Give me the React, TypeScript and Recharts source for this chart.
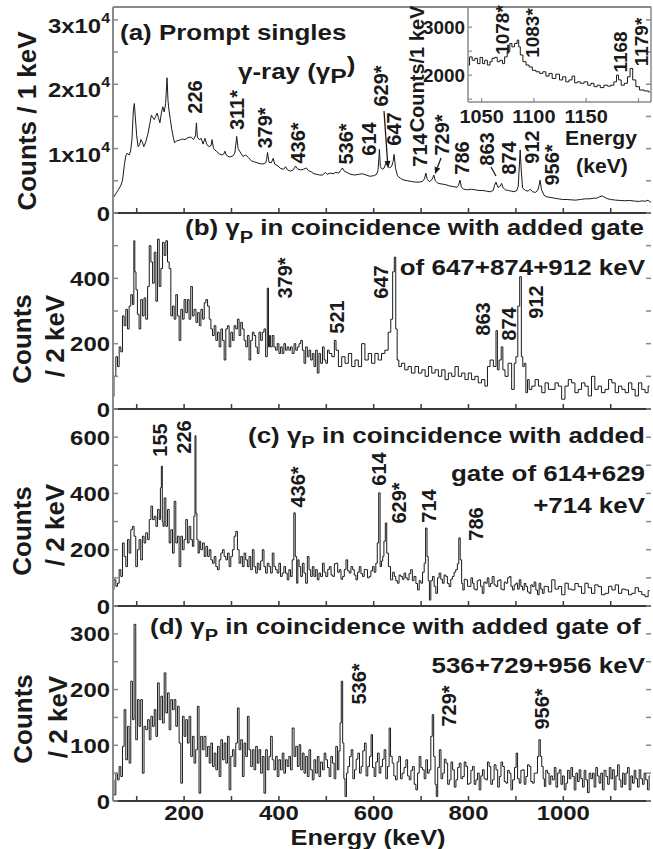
import React from 'react';
import { LineChart, Line, XAxis, YAxis, ReferenceLine } from 'recharts';

const W = 653;
const H = 849;
const XL = 113;
const XR = 651;
const FONT = '"Liberation Sans", Arial, Helvetica, sans-serif';
const INK = '#1a1a1a';
const AXIS_DARK = '#3a3a3a';
const AXIS_GRAY = '#8a8a8a';

type Pt = [number, number];

// (a) prompt singles, counts / 1 keV
const panelA: Pt[] = [[50,2300],[56,3000],[62,3700],[66,4200],[70,5000],[74,7500],[77,8900],[80,9300],[84,9000],[87,9600],[90,11400],[93,16000],[95,17000],[97,15000],[100,12000],[103,10300],[106,10600],[109,11400],[112,11000],[115,10300],[119,11000],[124,12400],[128,14000],[131,15200],[134,14800],[137,14500],[140,15000],[143,15500],[146,14800],[149,14000],[152,15500],[155,16500],[158,15700],[161,17000],[164,21000],[166,17500],[168,16000],[171,14500],[174,13000],[177,11800],[180,10900],[184,11200],[190,11300],[196,11500],[202,11400],[208,11700],[214,11800],[220,11400],[224,12000],[226,14000],[228,11800],[232,11400],[236,11600],[240,10700],[244,11600],[248,10600],[253,10300],[257,10500],[259,11400],[262,10000],[268,9600],[274,9200],[280,9000],[284,9200],[286,9600],[289,9000],[295,8700],[302,8800],[307,9300],[311,11900],[314,10000],[318,9500],[324,8800],[330,9000],[336,8600],[342,8100],[350,7900],[358,7700],[366,7600],[372,7800],[374,8300],[376,9400],[379,7900],[384,7800],[388,8500],[391,7600],[398,7300],[404,6900],[410,6800],[414,7200],[418,6700],[424,6500],[430,6700],[433,7000],[435,7300],[440,6800],[446,6700],[452,6800],[458,7000],[462,6600],[468,6400],[474,6100],[480,6000],[486,5900],[492,5900],[498,6300],[502,6000],[508,6200],[514,6100],[520,6300],[526,6200],[530,6600],[534,7000],[538,6500],[546,6200],[552,6000],[560,5900],[568,6000],[576,6100],[584,5900],[592,5700],[600,5800],[606,6000],[609,6600],[611,8500],[612,9900],[614,7200],[618,6800],[622,7000],[625,7600],[627,8000],[630,7200],[634,7000],[638,7300],[641,8000],[643,9100],[646,7000],[650,5800],[656,5400],[664,5100],[672,5000],[680,4900],[688,4800],[696,4800],[703,4900],[707,5300],[710,6200],[713,5200],[718,4900],[723,5200],[727,5900],[730,5000],[736,4600],[744,4500],[752,4400],[760,4200],[768,4100],[776,4000],[779,4300],[782,5100],[785,4000],[790,3700],[798,3600],[806,3700],[814,3600],[822,3500],[830,3500],[838,3400],[846,3300],[852,3500],[855,4300],[858,4800],[862,4000],[866,4100],[870,4600],[873,3900],[878,3600],[884,3500],[890,3400],[896,3300],[902,3500],[905,4200],[907,7000],[909,9800],[911,7000],[914,3900],[920,3500],[926,3400],[930,3700],[935,3300],[941,3200],[946,3500],[949,4300],[951,5100],[954,3600],[960,2700],[966,2500],[974,2400],[982,2300],[990,2200],[998,2100],[1006,2100],[1016,2050],[1026,2000],[1036,2100],[1046,2200],[1056,2200],[1064,2300],[1070,2300],[1076,2500],[1082,2650],[1088,2400],[1094,2200],[1100,2100],[1110,2000],[1120,1950],[1130,1900],[1140,1950],[1150,1850],[1160,1800],[1168,1900],[1172,1800],[1179,2000],[1182,1750],[1185,1700]];

// inset of (a), counts / 1 keV
const insetA: Pt[] = [[1037,2210],[1040,2380],[1042,2310],[1045,2350],[1047,2240],[1050,2370],[1052,2240],[1054,2310],[1057,2210],[1059,2280],[1061,2350],[1064,2370],[1066,2280],[1069,2310],[1071,2240],[1073,2380],[1076,2490],[1078,2660],[1080,2590],[1083,2660],[1085,2730],[1086,2590],[1088,2420],[1091,2280],[1094,2210],[1097,2170],[1100,2100],[1104,2070],[1107,2035],[1110,2070],[1113,1980],[1116,2035],[1119,1930],[1123,2020],[1126,1900],[1129,1965],[1132,1860],[1135,1900],[1138,1980],[1140,1840],[1143,1860],[1146,1830],[1150,1860],[1153,1790],[1156,1830],[1159,1760],[1162,1790],[1165,1740],[1169,1790],[1172,1770],[1175,1790],[1178,1860],[1180,2000],[1182,1900],[1185,1790],[1188,1830],[1191,1965],[1193,2140],[1196,1900],[1199,1760],[1203,1690],[1208,1670],[1211,1650]];

// (b) gate 647+874+912, counts / 2 keV
const panelB: Pt[] = [[50,38],[54,100],[58,160],[61,130],[65,190],[68,175],[72,285],[75,255],[79,305],[82,245],[86,315],[89,350],[93,320],[95,515],[97,420],[100,365],[103,290],[107,245],[110,335],[114,285],[117,340],[121,275],[125,375],[128,500],[132,450],[135,385],[139,480],[142,330],[146,520],[149,375],[153,430],[156,510],[160,470],[163,515],[167,450],[170,430],[174,285],[177,315],[181,275],[184,350],[188,285],[191,210],[195,305],[198,275],[202,335],[205,295],[209,335],[212,275],[216,375],[219,285],[223,305],[227,265],[230,295],[234,255],[237,305],[241,275],[244,325],[248,335],[251,315],[255,275],[258,245],[262,225],[265,255],[269,210],[272,235],[276,190],[279,245],[283,210],[286,150],[290,245],[293,255],[297,190],[300,235],[304,210],[307,255],[311,245],[314,275],[318,225],[321,265],[325,245],[328,210],[332,190],[335,225],[339,150],[342,210],[346,235],[349,225],[353,190],[356,170],[360,235],[363,210],[367,235],[370,245],[374,160],[377,370],[379,190],[381,225],[384,190],[388,225],[391,190],[395,180],[398,200],[402,170],[405,190],[409,170],[412,200],[416,180],[419,190],[423,180],[426,190],[430,170],[434,200],[437,180],[441,190],[444,200],[448,210],[451,180],[455,140],[458,190],[462,160],[465,180],[469,150],[472,170],[476,130],[479,180],[483,110],[486,170],[490,140],[494,190],[497,150],[501,140],[504,180],[508,170],[515,160],[519,210],[522,180],[529,130],[536,160],[543,140],[550,170],[557,130],[564,150],[571,130],[578,200],[585,150],[592,170],[599,140],[606,170],[613,150],[620,170],[627,180],[634,235],[638,275],[642,420],[645,465],[648,245],[651,150],[655,130],[662,140],[669,120],[676,130],[683,110],[691,130],[698,110],[705,120],[712,100],[719,130],[726,110],[733,120],[740,100],[747,120],[754,90],[761,110],[768,100],[775,130],[782,100],[789,110],[796,90],[803,110],[810,90],[817,100],[824,80],[831,90],[838,70],[842,130],[849,150],[856,130],[860,240],[862,120],[867,150],[871,190],[874,120],[880,100],[887,140],[895,60],[898,140],[902,160],[906,315],[910,405],[913,160],[916,130],[919,140],[923,50],[926,90],[930,60],[937,70],[944,90],[951,70],[958,50],[965,80],[972,60],[979,60],[986,80],[993,70],[1000,30],[1007,70],[1014,90],[1021,80],[1028,50],[1035,60],[1042,80],[1049,70],[1056,40],[1063,100],[1070,60],[1077,70],[1084,50],[1092,60],[1099,90],[1106,80],[1113,50],[1120,70],[1127,60],[1134,50],[1141,80],[1148,60],[1155,40],[1162,80],[1169,60],[1176,50],[1182,70]];

// (c) gate 614+629+714, counts / 2 keV
const panelC: Pt[] = [[50,57],[54,93],[58,70],[61,81],[65,129],[68,105],[72,224],[75,176],[79,140],[82,236],[86,188],[89,271],[93,283],[96,248],[100,140],[103,200],[107,236],[110,164],[114,248],[117,224],[121,260],[125,236],[128,307],[132,355],[135,307],[139,319],[142,283],[146,343],[149,307],[151,420],[153,497],[155,300],[156,283],[160,384],[163,283],[167,343],[170,224],[174,271],[177,188],[181,372],[184,224],[188,248],[191,140],[195,248],[198,200],[202,236],[205,307],[209,224],[212,283],[216,236],[219,212],[222,319],[224,605],[226,330],[228,236],[231,188],[233,230],[237,200],[241,224],[244,176],[248,212],[251,176],[255,200],[258,164],[262,152],[265,176],[269,140],[272,129],[276,164],[279,188],[283,200],[286,176],[290,164],[293,188],[297,140],[300,176],[304,200],[307,248],[311,265],[314,200],[318,152],[321,176],[325,140],[328,188],[332,164],[335,140],[339,176],[342,129],[346,200],[349,140],[353,117],[356,152],[360,129],[363,160],[367,200],[370,140],[374,117],[377,152],[381,140],[384,117],[388,188],[391,140],[395,129],[398,117],[402,152],[405,105],[409,117],[412,140],[416,117],[419,93],[423,129],[426,105],[430,164],[433,331],[436,176],[439,81],[441,164],[444,140],[448,105],[451,152],[455,117],[458,81],[462,176],[465,129],[469,105],[472,140],[476,105],[479,129],[483,93],[486,117],[490,105],[494,152],[497,120],[501,105],[505,130],[508,140],[512,110],[515,105],[519,150],[522,152],[526,120],[529,129],[533,95],[536,105],[540,130],[543,164],[547,125],[550,117],[554,140],[557,129],[561,110],[564,93],[568,120],[571,140],[575,115],[578,105],[582,130],[585,129],[589,100],[592,105],[596,125],[599,140],[603,120],[606,152],[609,224],[612,402],[615,140],[618,160],[620,176],[623,230],[626,295],[629,188],[633,140],[638,93],[642,120],[645,105],[648,90],[652,81],[655,110],[659,105],[662,95],[666,117],[669,100],[673,93],[676,115],[680,129],[683,90],[687,105],[691,80],[694,57],[698,90],[701,81],[705,120],[708,152],[711,277],[714,176],[716,90],[719,21],[722,90],[726,105],[729,70],[733,45],[736,100],[740,117],[743,95],[747,81],[750,110],[754,105],[757,80],[761,69],[764,95],[768,105],[771,120],[775,129],[778,150],[781,242],[784,164],[787,80],[789,57],[793,95],[796,93],[800,70],[803,69],[807,100],[810,81],[813,60],[817,57],[820,90],[824,93],[827,70],[831,45],[834,85],[838,81],[841,100],[845,69],[848,80],[852,105],[856,75],[860,69],[863,90],[867,93],[870,60],[874,57],[877,85],[881,81],[884,100],[888,105],[891,70],[895,57],[898,75],[902,81],[905,60],[909,93],[912,70],[916,57],[919,80],[923,69],[926,50],[930,45],[933,75],[937,69],[940,85],[944,57],[947,40],[951,81],[954,60],[958,45],[961,70],[965,69],[972,50],[979,93],[986,60],[993,69],[1000,40],[1007,81],[1014,60],[1021,57],[1028,80],[1035,69],[1042,45],[1049,81],[1056,65],[1063,45],[1070,75],[1077,69],[1084,40],[1092,45],[1099,70],[1106,57],[1113,75],[1120,45],[1127,60],[1134,57],[1141,40],[1148,45],[1155,65],[1162,51],[1169,40],[1176,33],[1182,55]];

// (d) gate 536+729+956, counts / 2 keV
const panelD: Pt[] = [[50,38],[54,11],[58,50],[61,38],[65,62],[68,44],[72,98],[75,164],[79,74],[82,134],[86,68],[89,215],[93,146],[96,317],[100,110],[103,182],[107,134],[110,182],[114,50],[117,134],[121,128],[125,146],[128,110],[132,152],[135,134],[139,164],[142,116],[146,212],[149,146],[153,188],[156,140],[160,230],[163,158],[167,194],[170,128],[174,182],[177,164],[181,182],[184,134],[188,170],[191,104],[195,32],[198,152],[202,116],[205,146],[209,104],[212,152],[216,80],[219,116],[223,68],[226,92],[230,170],[233,14],[237,116],[240,92],[244,116],[248,80],[251,98],[255,68],[258,104],[262,62],[265,86],[269,56],[272,98],[276,44],[279,110],[283,74],[286,104],[290,68],[293,116],[297,20],[300,80],[304,92],[307,62],[311,104],[314,167],[318,92],[321,110],[325,44],[328,104],[332,80],[335,152],[339,92],[342,62],[346,92],[349,56],[353,98],[356,68],[360,92],[363,50],[367,80],[370,14],[374,92],[377,56],[381,80],[384,116],[388,74],[391,56],[395,80],[398,44],[402,74],[405,56],[409,86],[412,50],[416,74],[419,62],[423,80],[426,56],[430,131],[434,80],[437,98],[441,62],[444,101],[448,56],[451,86],[455,50],[458,80],[462,44],[465,92],[469,56],[472,38],[476,74],[479,50],[483,80],[486,44],[490,70],[494,56],[497,86],[501,74],[504,60],[508,44],[511,80],[515,68],[518,40],[522,98],[525,56],[528,90],[530,140],[533,215],[536,104],[538,40],[541,8],[544,50],[547,62],[551,80],[554,92],[558,40],[561,56],[565,75],[568,86],[572,50],[575,62],[579,90],[582,104],[586,45],[589,62],[593,80],[596,119],[599,60],[603,44],[606,70],[610,86],[613,50],[617,62],[620,75],[624,92],[627,40],[631,62],[634,131],[637,80],[641,68],[644,45],[648,38],[651,70],[655,80],[658,40],[662,50],[666,60],[670,74],[673,45],[677,38],[680,55],[684,62],[687,30],[691,20],[694,50],[698,80],[701,60],[705,56],[708,40],[712,74],[715,50],[719,56],[722,116],[725,155],[728,80],[731,30],[733,8],[737,60],[740,92],[744,40],[747,50],[751,75],[754,68],[758,30],[761,38],[765,70],[768,56],[772,25],[775,38],[779,60],[782,68],[786,40],[789,44],[793,70],[796,62],[800,30],[803,32],[807,55],[810,62],[814,30],[817,38],[821,50],[824,20],[828,45],[831,56],[835,40],[838,38],[842,70],[845,62],[849,30],[852,38],[856,65],[860,56],[863,25],[867,44],[870,70],[874,62],[877,35],[881,32],[884,55],[888,50],[891,20],[895,38],[899,60],[902,86],[905,40],[909,32],[912,55],[916,56],[919,30],[923,44],[926,65],[930,62],[933,35],[937,32],[940,50],[944,50],[947,80],[950,110],[953,80],[956,62],[959,40],[961,26],[965,55],[968,50],[972,30],[975,45],[979,38],[983,60],[986,25],[990,50],[993,56],[997,30],[1000,45],[1004,20],[1007,32],[1011,55],[1014,40],[1018,60],[1021,44],[1025,20],[1028,50],[1032,35],[1035,56],[1039,40],[1042,25],[1046,55],[1049,38],[1053,15],[1056,50],[1060,40],[1063,50],[1067,25],[1070,60],[1074,45],[1077,32],[1081,50],[1084,20],[1088,55],[1092,44],[1095,30],[1099,60],[1102,40],[1106,56],[1109,20],[1113,45],[1116,65],[1120,38],[1123,25],[1127,50],[1130,30],[1134,50],[1137,60],[1141,20],[1144,45],[1148,32],[1151,55],[1155,40],[1158,25],[1162,56],[1165,40],[1169,30],[1172,50],[1176,38],[1179,20],[1183,45]];

const energyTicks = [100, 200, 300, 400, 500, 600, 700, 800, 900, 1000, 1100];
const energyLabels = [200, 400, 600, 800, 1000];
const ticksA = [0, 5000, 10000, 15000, 20000, 25000, 30000];
const labelsA = [0, 10000, 20000, 30000];
const ticksB = [0, 100, 200, 300, 400, 500];
const labelsB = [0, 200, 400];
const ticksC = [0, 100, 200, 300, 400, 500, 600];
const labelsC = [0, 200, 400, 600];
const ticksD = [0, 50, 100, 150, 200, 250, 300];
const labelsD = [0, 100, 200, 300];
const insetXTicks = [1050, 1100, 1150, 1200];
const insetXLabels = [1050, 1100, 1150];
const insetYTicks = [1500, 2000, 2500, 3000];
const insetYLabels = [2000, 3000];

const toRows = (pts: Pt[]) => pts.map(([e, c]) => ({ e, c }));

const SX = 1.18;
function HT({ x, y, size = 22, anchor = 'start', sx = SX, children }: any) {
  return (
    <text transform={`translate(${x},${y}) scale(${sx},1)`} textAnchor={anchor} fontSize={size}
      fontFamily={FONT} fontWeight="bold" fill={INK}>{children}</text>
  );
}
function VT({ x, y, size = 20, children }: any) {
  return (
    <text transform={`translate(${x + size * 0.36},${y}) rotate(-90)`} textAnchor="middle" fontSize={size}
      fontFamily={FONT} fontWeight="bold" fill={INK}>{children}</text>
  );
}

type PanelProps = {
  data: Pt[]; top: number; bottom: number; yMax: number; yTicks: number[]; yLabels: number[];
  sci?: boolean; showX?: boolean; step?: boolean; frameTop?: boolean;
};

function Panel(p: PanelProps) {
  const xTick = (props: any) => {
    const x = props.x;
    const v = props.payload.value;
    return (
      <g>
        <line x1={x} x2={x} y1={p.bottom} y2={p.bottom - 5} stroke={AXIS_DARK} strokeWidth={1.5} />
        {p.showX && energyLabels.includes(v) ? (
          <text transform={`translate(${x},${p.bottom + 18.5}) scale(1.14,1)`} textAnchor="middle" fontSize={21}
            fontFamily={FONT} fontWeight="bold" fill={INK}>{v}</text>
        ) : null}
      </g>
    );
  };
  const yTick = (props: any) => {
    const y = props.y;
    const v = props.payload.value;
    let label: any = null;
    if (p.yLabels.includes(v)) {
      if (p.sci && v !== 0) {
        label = (
          <text transform={`translate(110,${y + 13}) scale(1.14,1)`} textAnchor="end" fontSize={21}
            fontFamily={FONT} fontWeight="bold" fill={INK}>
            {`${v / 10000}x10`}<tspan dy={-10} fontSize={14}>4</tspan>
          </text>
        );
      } else {
        label = (
          <text transform={`translate(110,${y + 7.5}) scale(1.14,1)`} textAnchor="end" fontSize={21}
            fontFamily={FONT} fontWeight="bold" fill={INK}>{v}</text>
        );
      }
    }
    return (
      <g>
        <line x1={XL} x2={XL + 5} y1={y} y2={y} stroke={AXIS_GRAY} strokeWidth={1.5} />
        <line x1={XR} x2={XR - 5} y1={y} y2={y} stroke={AXIS_GRAY} strokeWidth={1.5} />
        {label}
      </g>
    );
  };
  return (
    <div style={{ position: 'absolute', left: 0, top: 0 }}>
      <LineChart width={W} height={H} data={toRows(p.data)}
        margin={{ top: p.top, bottom: H - p.bottom - 30, left: 0, right: W - XR }}>
        <XAxis dataKey="e" type="number" domain={[50, 1185]} ticks={energyTicks} interval={0} height={30}
          tickLine={false} axisLine={{ stroke: AXIS_DARK, strokeWidth: 2 }} tick={xTick} />
        <YAxis type="number" domain={[0, p.yMax]} ticks={p.yTicks} interval={0} width={XL}
          tickLine={false} axisLine={{ stroke: AXIS_GRAY, strokeWidth: 2 }} tick={yTick} />
        {p.frameTop ? <ReferenceLine y={p.yMax} stroke={AXIS_GRAY} strokeWidth={2} /> : null}
        <Line dataKey="c" type={p.step ? 'step' : 'linear'} stroke={INK} strokeWidth={1} dot={false}
          isAnimationActive={false} />
      </LineChart>
    </div>
  );
}

const IL = 468;
const IT = 7;
const IB = 102;

function Inset() {
  const xTick = (props: any) => {
    const x = props.x;
    const v = props.payload.value;
    return (
      <g>
        <line x1={x} x2={x} y1={IB} y2={IB - 4} stroke={AXIS_GRAY} strokeWidth={1.2} />
        {insetXLabels.includes(v) ? (
          <text transform={`translate(${x},${IB + 21}) scale(1.05,1)`} textAnchor="middle" fontSize={19}
            fontFamily={FONT} fontWeight="bold" fill={INK}>{v}</text>
        ) : null}
      </g>
    );
  };
  const yTick = (props: any) => {
    const y = props.y;
    const v = props.payload.value;
    return (
      <g>
        <line x1={IL} x2={IL + 4} y1={y} y2={y} stroke={AXIS_GRAY} strokeWidth={1.2} />
        {insetYLabels.includes(v) ? (
          <text transform={`translate(465,${y + 6.5}) scale(1.05,1)`} textAnchor="end" fontSize={18}
            fontFamily={FONT} fontWeight="bold" fill={INK}>{v}</text>
        ) : null}
      </g>
    );
  };
  return (
    <div style={{ position: 'absolute', left: 0, top: 0 }}>
      <LineChart width={W} height={H} data={toRows(insetA)}
        margin={{ top: IT, bottom: H - IB - 30, left: 0, right: W - XR }}>
        <XAxis dataKey="e" type="number" domain={[1037, 1212]} ticks={insetXTicks} interval={0} height={30}
          tickLine={false} axisLine={{ stroke: AXIS_GRAY, strokeWidth: 1.5 }} tick={xTick} />
        <YAxis type="number" domain={[1440, 3420]} ticks={insetYTicks} interval={0} width={IL}
          tickLine={false} axisLine={{ stroke: AXIS_GRAY, strokeWidth: 1.5 }} tick={yTick} />
        <ReferenceLine x={1212} stroke={AXIS_GRAY} strokeWidth={1.5} />
        <Line dataKey="c" type="step" stroke={INK} strokeWidth={1} dot={false} isAnimationActive={false} />
      </LineChart>
    </div>
  );
}

function Arrow({ x1, y1, x2, y2 }: any) {
  const dx = x2 - x1;
  const dy = y2 - y1;
  const len = Math.sqrt(dx * dx + dy * dy);
  const ux = dx / len;
  const uy = dy / len;
  const bx = x2 - ux * 7;
  const by = y2 - uy * 7;
  const pts = `${x2},${y2} ${bx - uy * 3},${by + ux * 3} ${bx + uy * 3},${by - ux * 3}`;
  return (
    <g>
      <line x1={x1} y1={y1} x2={bx} y2={by} stroke={INK} strokeWidth={1.3} />
      <polygon points={pts} fill={INK} />
    </g>
  );
}

function Overlay() {
  return (
    <svg width={W} height={H} style={{ position: 'absolute', left: 0, top: 0 }}>
      {/* panel (a) */}
      <HT x={120} y={40}>(a) Prompt singles</HT>
      <HT x={238} y={79}>γ-ray (γ<tspan dy={4} fontSize={21}>P</tspan><tspan dy={-11}>)</tspan></HT>
      <VT x={27} y={121} size={26}>Counts / 1 keV</VT>
      <VT x={195} y={97}>226</VT>
      <VT x={237} y={110}>311*</VT>
      <VT x={265} y={128}>379*</VT>
      <VT x={298} y={143}>436*</VT>
      <VT x={346} y={144}>536*</VT>
      <VT x={369} y={139}>614</VT>
      <VT x={381} y={86}>629*</VT>
      <VT x={394} y={129}>647</VT>
      <VT x={420} y={150}>714</VT>
      <VT x={442} y={135}>729*</VT>
      <VT x={462} y={158}>786</VT>
      <VT x={487} y={149}>863</VT>
      <VT x={509} y={158}>874</VT>
      <VT x={532} y={147}>912</VT>
      <VT x={552} y={165}>956*</VT>
      <Arrow x1={384} y1={111} x2={388} y2={168} />
      <Arrow x1={441} y1={158} x2={435} y2={174} />
      <line x1={491} y1={167} x2={496} y2={176} stroke={INK} strokeWidth={1.3} />
      {/* inset */}
      <VT x={417} y={69} size={20}>Counts/1 keV</VT>
      <VT x={502} y={30} size={19}>1078*</VT>
      <VT x={532} y={33} size={19}>1083*</VT>
      <VT x={620} y={52} size={19}>1168</VT>
      <VT x={641} y={42} size={19}>1179*</VT>
      <HT x={601} y={145} size={20} sx={1.06} anchor="middle">Energy</HT>
      <HT x={602} y={173} size={20} sx={1.06} anchor="middle">(keV)</HT>
      {/* panel (b) */}
      <HT x={185} y={235}>(b) γ<tspan dy={8} fontSize={17}>P</tspan><tspan dy={-8}> in coincidence with added gate</tspan></HT>
      <HT x={645} y={275} anchor="end">of 647+874+912 keV</HT>
      <VT x={22} y={339} size={26}>Counts</VT>
      <VT x={55} y={336} size={26}>/ 2 keV</VT>
      <VT x={285} y={278}>379*</VT>
      <VT x={337} y={317}>521</VT>
      <VT x={381} y={282}>647</VT>
      <VT x={483} y={319}>863</VT>
      <VT x={509} y={324}>874</VT>
      <VT x={536} y={302}>912</VT>
      {/* panel (c) */}
      <HT x={248} y={443}>(c) γ<tspan dy={5} fontSize={17}>P</tspan><tspan dy={-5}> in coincidence with added</tspan></HT>
      <HT x={645} y={481} anchor="end">gate of 614+629</HT>
      <HT x={645} y={513} anchor="end">+714 keV</HT>
      <VT x={22} y={531} size={26}>Counts</VT>
      <VT x={55} y={525} size={26}>/ 2 keV</VT>
      <VT x={160} y={440}>155</VT>
      <VT x={184} y={437}>226</VT>
      <VT x={298} y={487}>436*</VT>
      <VT x={379} y={469}>614</VT>
      <VT x={399} y={503}>629*</VT>
      <VT x={429} y={506}>714</VT>
      <VT x={476} y={524}>786</VT>
      {/* panel (d) */}
      <HT x={150} y={634}>(d) γ<tspan dy={7} fontSize={17}>P</tspan><tspan dy={-7}> in coincidence with added gate of</tspan></HT>
      <HT x={645} y={673} anchor="end">536+729+956 keV</HT>
      <VT x={23} y={719} size={26}>Counts</VT>
      <VT x={58} y={717} size={26}>/ 2 keV</VT>
      <VT x={359} y={684}>536*</VT>
      <VT x={449} y={706}>729*</VT>
      <VT x={542} y={709}>956*</VT>
      <HT x={368} y={845} size={21.5} anchor="middle">Energy (keV)</HT>
    </svg>
  );
}

export default function App() {
  return (
    <div style={{ position: 'absolute', left: 0, top: 0, width: W, height: H, background: '#fff', overflow: 'hidden' }}>
      <Panel data={panelA} top={7} bottom={213} yMax={32000} yTicks={ticksA} yLabels={labelsA} sci frameTop />
      <Panel data={panelB} top={213} bottom={409} yMax={600} yTicks={ticksB} yLabels={labelsB} step />
      <Panel data={panelC} top={409} bottom={606} yMax={700} yTicks={ticksC} yLabels={labelsC} step />
      <Panel data={panelD} top={606} bottom={801} yMax={350} yTicks={ticksD} yLabels={labelsD} step showX />
      <Inset />
      <Overlay />
    </div>
  );
}
